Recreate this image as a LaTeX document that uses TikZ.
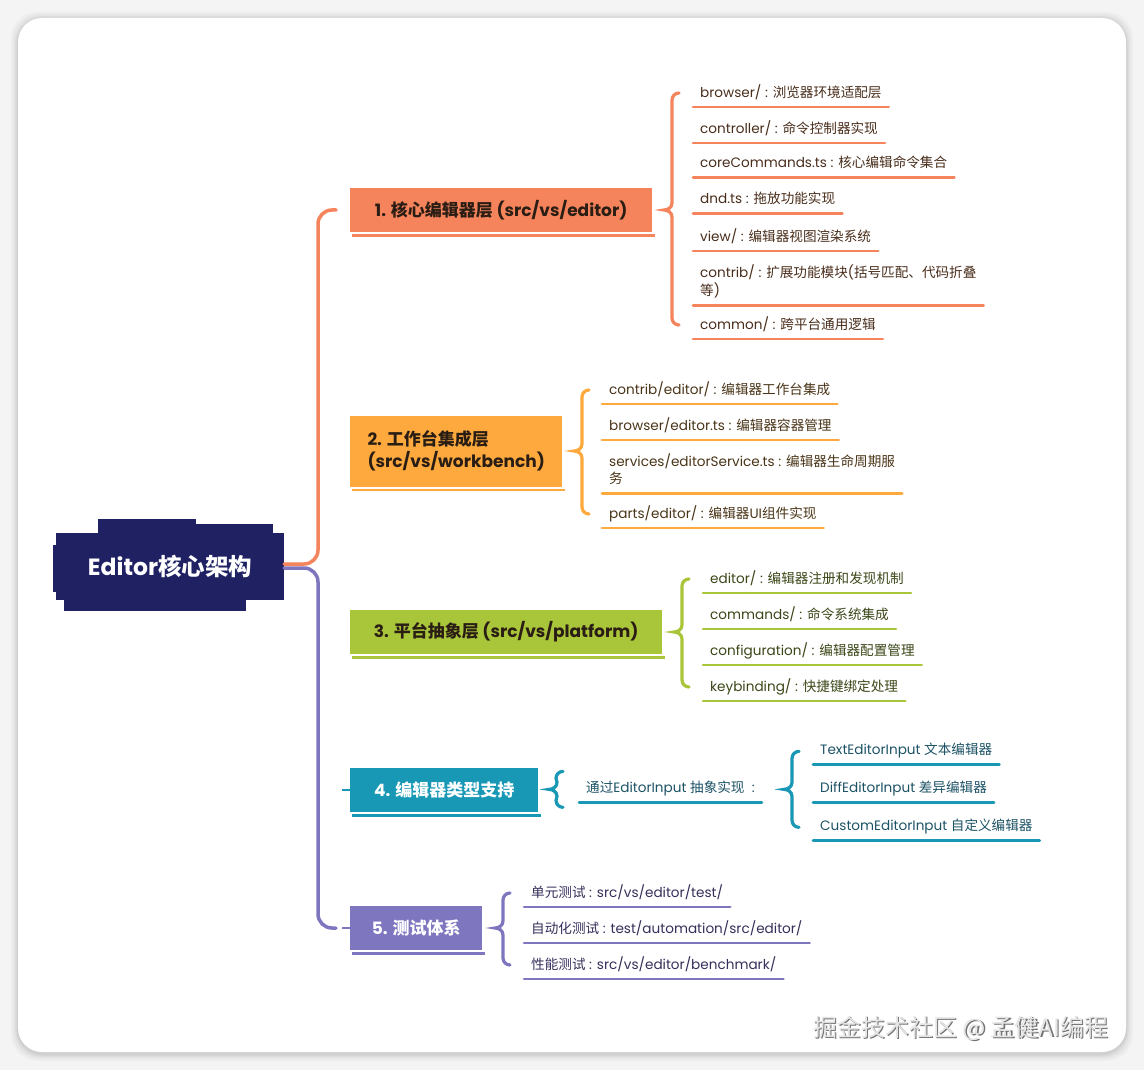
\documentclass[tikz,border=0pt]{standalone}
\usepackage{fontspec}
\setmainfont{Noto Sans CJK SC}
\newfontfamily\en{Poppins}
\newcommand\EN[1]{{\en #1}}
\usetikzlibrary{calc}
\definecolor{navy}{HTML}{1F2163}
\definecolor{cA}{HTML}{F5835C}
\definecolor{cAt}{HTML}{4A2E1C}
\definecolor{cB}{HTML}{FDA93D}
\definecolor{cBt}{HTML}{4A3518}
\definecolor{cC}{HTML}{A9C53A}
\definecolor{cCt}{HTML}{3B4718}
\definecolor{cD}{HTML}{1898B5}
\definecolor{cDt}{HTML}{1D5366}
\definecolor{cE}{HTML}{7E77C0}
\definecolor{cEt}{HTML}{35305A}
\definecolor{dark}{HTML}{2A1D14}
\definecolor{outbg}{HTML}{F4F4F4}
\newcommand\lf[4]{%
  \node[leaf,text=#2t] (#1) at (#3) {\strut #4};
  \draw[ul,#2] (#1.south west) -- (#1.south east);}
\newcommand\brc[4]{%
  \draw[brc,#1] ($(#2)+(7,0)$) to[out=180,in=90] ($(#2)+(0,7)$) -- ($(#3)+(8,-7)$)
    to[out=-90,in=0] (#3) to[out=0,in=90] ($(#3)+(8,7)$) -- ($(#4)+(0,-7)$)
    to[out=-90,in=180] ($(#4)+(7,0)$);}
\begin{document}
\begin{tikzpicture}[x=1pt,y=-1pt,
  root/.style={fill=navy,text=white,font=\bfseries\fontsize{23.5}{27}\selectfont,
    minimum width=228pt,minimum height=67pt,inner sep=0pt},
  branch/.style={anchor=west,minimum height=44pt,inner xsep=10pt,inner ysep=4pt,
    font=\bfseries\fontsize{17}{22}\selectfont,align=left},
  leaf/.style={anchor=north west,inner xsep=7pt,inner ysep=5pt,align=left,
    font=\fontsize{13.6}{16}\selectfont},
  ul/.style={line width=2.6pt,line cap=round},
  brc/.style={line width=3.2pt,line cap=round},
  conn/.style={line width=3.5pt,rounded corners=14pt,line cap=round},
  wm/.style={font=\fontsize{24}{28}\selectfont}]
\useasboundingbox (0,0) rectangle (1144,1070);
\fill[outbg] (0,0) rectangle (1144,1070);
\foreach \i/\o in {7/0.025,5/0.03,3/0.04,1.5/0.05}
  \fill[black,opacity=\o,rounded corners=26pt] (18-\i,19-\i) rectangle (1126+\i,1054+\i);
\fill[white,rounded corners=24pt] (18,18) rectangle (1126,1052);

% root
\fill[navy] (98,519) rectangle (196,536);
\fill[navy] (196,524) rectangle (273,536);
\fill[navy] (64,598) rectangle (246,611);
\fill[navy] (53,545) rectangle (60,592);
\node[root] (root) at (170,566) {\EN{Editor}核心架构};

% branches
\node[branch,fill=cA,text=dark,minimum width=302pt] (b1) at (350,210) {\EN{1. }核心编辑器层\EN{ (src/vs/editor)}};
\node[branch,fill=cB,text=dark,minimum width=212pt,minimum height=71pt] (b2) at (350,451) {\EN{2. }工作台集成层\\\EN{(src/vs/workbench)}};
\node[branch,fill=cC,text=dark,minimum width=312pt] (b3) at (350,632) {\EN{3. }平台抽象层\EN{ (src/vs/platform)}};
\node[branch,fill=cD,text=white,minimum width=188pt] (b4) at (350,790) {\EN{4. }编辑器类型支持};
\node[branch,fill=cE,text=white,minimum width=132pt] (b5) at (350,928) {\EN{5. }测试体系};
\foreach \n/\c in {b1/cA,b2/cB,b3/cC,b4/cD,b5/cE}
  \fill[\c] ($(\n.south west)+(2,2)$) rectangle ($(\n.south east)+(3,4.5)$);
\draw[cD,line width=1.5pt] ($(b4.west)+(-8,0)$) -- (b4.west);
\draw[cE,line width=1.5pt] ($(b5.west)+(-8,0)$) -- (b5.west);

% main connectors
\draw[conn,cA] ([yshift=2pt]root.east) -| ($(b1.west)+(-32,0)$) -- ($(b1.west)+(-14,0)$);
\draw[conn,cE] ([yshift=-2pt]root.east) -| ($(b5.west)+(-32,0)$) -- ($(b5.west)+(-14,0)$);

% branch 1 leaves
\lf{l11}{cA}{693,79}{\EN{browser/ : }浏览器环境适配层}
\lf{l12}{cA}{693,115}{\EN{controller/ : }命令控制器实现}
\lf{l13}{cA}{693,151}{\EN{coreCommands.ts : }核心编辑命令集合}
\lf{l14}{cA}{693,187}{\EN{dnd.ts : }拖放功能实现}
\lf{l15}{cA}{693,223}{\EN{view/ : }编辑器视图渲染系统}
\lf{l16}{cA}{693,259}{\EN{contrib/ : }扩展功能模块\EN{(}括号匹配、代码折叠\\\strut 等\EN{)}}
\lf{l17}{cA}{693,311}{\EN{common/ : }跨平台通用逻辑}
\coordinate (t1) at ([xshift=-21pt]l11.west);
\coordinate (e1) at ([xshift=-21pt]l17.west);
\coordinate (m1) at ($(t1 |- b1.east)+(-8,0)$);
\brc{cA}{t1}{m1}{e1}

% branch 2 leaves
\lf{l21}{cB}{602,376}{\EN{contrib/editor/ : }编辑器工作台集成}
\lf{l22}{cB}{602,412}{\EN{browser/editor.ts : }编辑器容器管理}
\lf{l23}{cB}{602,448}{\EN{services/editorService.ts : }编辑器生命周期服\\\strut 务}
\lf{l24}{cB}{602,500}{\EN{parts/editor/ : }编辑器\EN{UI}组件实现}
\coordinate (t2) at ([xshift=-20pt]l21.west);
\coordinate (e2) at ([xshift=-20pt]l24.west);
\coordinate (m2) at ($(t2 |- b2.east)+(-8,0)$);
\brc{cB}{t2}{m2}{e2}

% branch 3 leaves
\lf{l31}{cC}{703,565}{\EN{editor/ : }编辑器注册和发现机制}
\lf{l32}{cC}{703,601}{\EN{commands/ : }命令系统集成}
\lf{l33}{cC}{703,637}{\EN{configuration/ : }编辑器配置管理}
\lf{l34}{cC}{703,673}{\EN{keybinding/ : }快捷键绑定处理}
\coordinate (t3) at ([xshift=-21pt]l31.west);
\coordinate (e3) at ([xshift=-21pt]l34.west);
\coordinate (m3) at ($(t3 |- b3.east)+(-8,0)$);
\brc{cC}{t3}{m3}{e3}

% branch 4
\lf{mid}{cD}{579,776}{通过\EN{EditorInput }抽象实现\EN{ \ :}}
\coordinate (t4a) at ([xshift=-23pt,yshift=18pt]mid.west);
\coordinate (e4a) at ([xshift=-23pt,yshift=-18pt]mid.west);
\coordinate (m4a) at ($(t4a |- mid.west)+(-7,0)$);
\brc{cD}{t4a}{m4a}{e4a}
\lf{l41}{cD}{813,738}{\EN{TextEditorInput }文本编辑器}
\lf{l42}{cD}{813,776}{\EN{DiffEditorInput }差异编辑器}
\lf{l43}{cD}{813,814}{\EN{CustomEditorInput }自定义编辑器}
\coordinate (t4) at ([xshift=-21pt]l41.west);
\coordinate (e4) at ([xshift=-21pt]l43.west);
\coordinate (m4) at ($(t4 |- mid.west)+(-8,0)$);
\brc{cD}{t4}{m4}{e4}

% branch 5 leaves
\lf{l51}{cE}{524,879}{单元测试\EN{ : src/vs/editor/test/}}
\lf{l52}{cE}{524,915}{自动化测试\EN{ : test/automation/src/editor/}}
\lf{l53}{cE}{524,951}{性能测试\EN{ : src/vs/editor/benchmark/}}
\coordinate (t5) at ([xshift=-21pt]l51.west);
\coordinate (e5) at ([xshift=-21pt]l53.west);
\coordinate (m5) at ($(t5 |- b5.east)+(-8,0)$);
\brc{cE}{t5}{m5}{e5}

% watermark
\node[wm,text=black!55] (wms) at (962.2,1029.2) {掘金技术社区 @ 孟健AI编程};
\node[wm,text=black!10] (wmt) at (961,1028) {掘金技术社区 @ 孟健AI编程};
\end{tikzpicture}
\end{document}
